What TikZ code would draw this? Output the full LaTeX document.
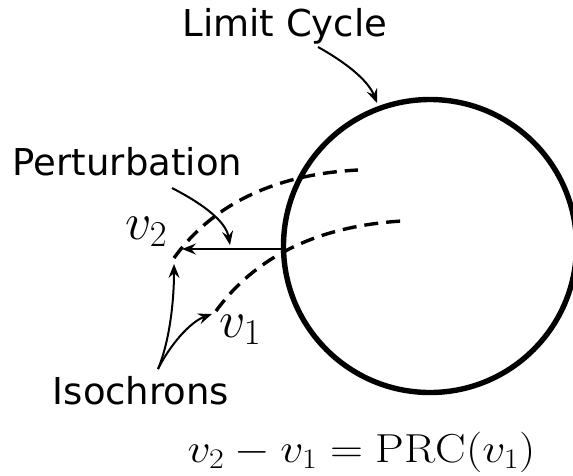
\RequirePackage{fix-cm}
\documentclass[tikz,border=0pt]{standalone}
\usepackage{fontspec}
\newfontfamily\dejavu{DejaVu Sans}
\usetikzlibrary{arrows.meta}
\begin{document}
\begin{tikzpicture}[x=1pt,y=-1pt,
  lbl/.style={font=\dejavu\fontsize{37}{40}\selectfont, inner sep=0pt, anchor=base},
  mlbl/.style={font=\fontsize{52}{56}\selectfont, inner sep=0pt, anchor=base west},
  ptr/.style={line width=2pt, -{Stealth[length=14pt,width=11pt,inset=5pt]}},
  iso/.style={line width=3.4pt, dash pattern=on 14pt off 8pt},
  cyc/.style={line width=5.4pt}]
\useasboundingbox (0,0) rectangle (573,475);
\clip (0,0) rectangle (573,475);
% limit cycle
\coordinate (cc) at (430,246);
\draw[cyc] (cc) circle[radius=146.5];
% labels
\node[lbl] (lc) at (285,36) {Limit Cycle};
\node[lbl] (pert) at (127.5,175) {Perturbation};
\node[lbl] (isoc) at (141,404) {Isochrons};
\node[mlbl] (v2) at (125,239) {$v_2$};
\node[mlbl] (v1) at (219,337) {$v_1$};
\node[font=\fontsize{40.5}{44}\selectfont, inner sep=0pt, anchor=base] (eq) at (361.5,462) {\scalebox{1.13}[1]{$v_2 - v_1 = \mathrm{PRC}(v_1)$}};
% points
\coordinate (v2pt) at (174,258);
\coordinate (v1pt) at (216,311);
\coordinate (up2) at (358,170);
\coordinate (up1) at (402,221);
\coordinate (hit) at (282,249);
\coordinate (hitend) at (182,249);
\coordinate (lcs) at (318,47);
\coordinate (lct) at (377,103);
\coordinate (ps) at (172,188);
\coordinate (pt) at (230,245);
\coordinate (is) at (158,369);
\coordinate (it2) at (174,264);
\coordinate (it1) at (212,314);
% isochrons
\draw[iso] (v2pt) .. controls (205,215) and (260,175) .. (up2);
\draw[iso] (v1pt) .. controls (248,267) and (303,227) .. (up1);
% perturbation
\draw[ptr] (hit) -- (hitend);
% pointer arrows
\draw[ptr] (lcs) .. controls (345,62) and (368,80) .. (lct);
\draw[ptr] (ps) .. controls (205,205) and (226,222) .. (pt);
\draw[ptr] (is) .. controls (170,340) and (174,300) .. (it2);
\draw[ptr] (is) .. controls (170,345) and (190,322) .. (it1);
\end{tikzpicture}
\end{document}
